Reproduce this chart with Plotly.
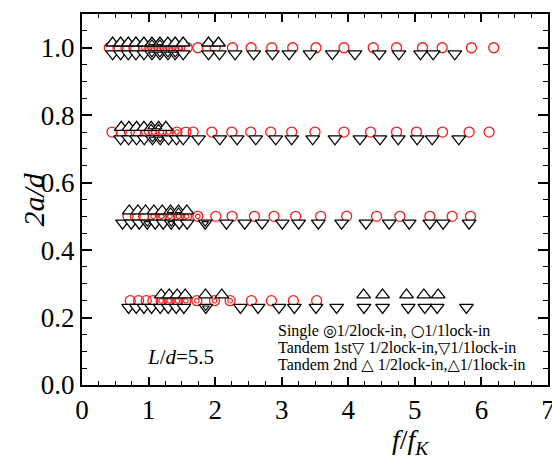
import plotly.graph_objects as go

# ---- data ----
# row levels of 2a/d (single cylinder circles), tandem markers drawn just above/below
row_levels = [1.0, 0.75, 0.5, 0.25]
tandem2_y = [1.014, 0.764, 0.516, 0.267]
tandem1_y = [0.982, 0.730, 0.480, 0.230]

# Single cylinder: 1/2 lock-in (double circle) and 1/1 lock-in (circle)
single_half_x = [
    [0.93, 1.02, 1.11, 1.2, 1.29, 1.38, 1.47],
    [0.97, 1.08, 1.19, 1.3, 1.425],
    [1.07, 1.195, 1.32, 1.45, 1.57, 1.74],
    [1.19, 1.31, 1.435, 1.56, 1.725, 1.99, 2.225],
]
single_full_x = [
    [0.41, 0.54, 0.66, 0.78, 1.58, 1.74, 2.0, 2.26, 2.54, 2.85, 3.165, 3.515,
     3.935, 4.375, 4.725, 5.115, 5.41, 5.85, 6.185],
    [0.45, 0.59, 0.71, 0.81, 1.56, 1.67, 1.95, 2.25, 2.535, 2.835, 3.15, 3.5,
     3.935, 4.335, 4.725, 5.025, 5.415, 5.815, 6.115],
    [0.69, 0.8, 0.925, 2.01, 2.255, 2.59, 2.885, 3.21, 3.585, 3.975, 4.425,
     4.775, 5.225, 5.56, 5.835],
    [0.725, 0.85, 0.965, 1.065, 2.545, 2.845, 3.175, 3.525],
]
# Tandem 1st cylinder (down triangles)
tandem1_half_x = [
    [1.05, 1.17, 1.29, 1.40],
    [1.06, 1.175],
    [0.98, 1.34, 1.85],
    [1.86],
]
tandem1_full_x = [
    [0.46, 0.58, 0.695, 0.81, 0.93, 1.52, 1.9, 2.065, 2.3, 2.58, 2.86, 3.11,
     3.425, 3.76, 4.1, 4.465, 4.76, 5.085, 5.275, 5.6],
    [0.58, 0.70, 0.82, 0.935, 1.3, 1.42, 1.52, 1.75, 2.07, 2.33, 2.61, 2.91,
     3.15, 3.465, 3.8, 4.175, 4.475, 4.75, 5.035, 5.26, 5.66],
    [0.61, 0.74, 0.86, 1.1, 1.22, 1.46, 1.58, 2.17, 2.445, 2.705, 3.01, 3.255,
     3.55, 3.9, 4.265, 4.615, 4.915, 5.225, 5.425, 5.815],
    [0.7, 0.815, 0.93, 1.045, 1.175, 1.295, 1.415, 1.53, 2.38, 2.645, 2.96,
     3.19, 3.515, 3.825, 4.235, 4.515, 4.9, 5.15, 5.335, 5.775],
]
# Tandem 2nd cylinder (up triangles)
tandem2_half_x = [
    [1.05, 1.17],
    [1.04, 1.15],
    [1.33, 1.45],
    [],
]
tandem2_full_x = [
    [0.46, 0.58, 0.695, 0.81, 0.93, 1.29, 1.40, 1.52, 1.9, 2.05],
    [0.59, 0.705, 0.82, 0.93, 1.26],
    [0.71, 0.84, 0.955, 1.08, 1.205, 1.575],
    [1.19, 1.31, 1.43, 1.55, 1.855, 2.1, 4.23, 4.515, 4.875, 5.135, 5.35],
]

x_ticks = [0, 1, 2, 3, 4, 5, 6, 7]
y_ticks = [0.0, 0.2, 0.4, 0.6, 0.8, 1.0]
y_tick_labels = ["0.0", "0.2", "0.4", "0.6", "0.8", "1.0"]

RED = "#ff1a1a"
FONT = "Liberation Serif"
TRI = 12
CIRC = 10

fig = go.Figure()

def sc(x, y, symbol, size, color, fill, lw=1.3):
    fig.add_trace(go.Scatter(
        x=x, y=y, mode="markers", showlegend=False, hoverinfo="skip", cliponaxis=False,
        marker=dict(symbol=symbol, size=size, color=fill,
                    line=dict(color=color, width=lw))))

# circles first (underneath)
for i, lvl in enumerate(row_levels):
    sc(single_full_x[i], [lvl] * len(single_full_x[i]), "circle", CIRC, RED, "rgba(0,0,0,0)")
    sc(single_half_x[i], [lvl] * len(single_half_x[i]), "circle", CIRC, RED, "rgba(0,0,0,0)")
    sc(single_half_x[i], [lvl] * len(single_half_x[i]), "circle", 4.5, RED, "rgba(0,0,0,0)", 1.1)

# triangles (white filled) drawn over, left to right
for i in range(len(row_levels)):
    xs1 = sorted(tandem1_full_x[i] + tandem1_half_x[i])
    sc(xs1, [tandem1_y[i]] * len(xs1), "triangle-down", TRI, "black", "white")
    sc(tandem1_half_x[i], [tandem1_y[i]] * len(tandem1_half_x[i]), "triangle-down", 6, "black", "white", 1.1)
    xs2 = sorted(tandem2_full_x[i] + tandem2_half_x[i])
    sc(xs2, [tandem2_y[i]] * len(xs2), "triangle-up", TRI, "black", "white")
    sc(tandem2_half_x[i], [tandem2_y[i]] * len(tandem2_half_x[i]), "triangle-up", 6, "black", "white", 1.1)

axis_common = dict(
    showline=True, linecolor="black", linewidth=2, mirror="ticks",
    ticks="inside", tickcolor="black", tickwidth=1.5,
    showgrid=False, zeroline=False, automargin=False,
    ticklabeloverflow="allow",
    tickfont=dict(family=FONT, size=27, color="black"),
)
fig.update_xaxes(range=[0, 7], tickvals=x_ticks, ticklen=8,
                 minor=dict(dtick=0.25, ticklen=4, ticks="inside", tickcolor="black", tickwidth=1.2),
                 **axis_common)
fig.update_yaxes(range=[0, 1.1], tickvals=y_ticks, ticktext=y_tick_labels, ticklen=10,
                 minor=dict(dtick=0.05, ticklen=5, ticks="inside", tickcolor="black", tickwidth=1.2),
                 **axis_common)

ann = []
ann.append(dict(xref="paper", yref="paper", x=-0.105, y=0.5, xanchor="center", yanchor="middle",
                text="<i>2a/d</i>", textangle=-90, showarrow=False,
                font=dict(family=FONT, size=30, color="black")))
ann.append(dict(xref="paper", yref="paper", x=0.705, y=-0.152, xanchor="center", yanchor="middle",
                text="<i>f</i>/<i>f</i><sub><i>K</i></sub>", showarrow=False,
                font=dict(family=FONT, size=28, color="black")))
ann.append(dict(xref="x", yref="y", x=1.48, y=0.084, xanchor="center", yanchor="middle",
                text="<i>L</i>/<i>d</i>=5.5", showarrow=False,
                font=dict(family=FONT, size=21, color="black")))
G = "<span style='font-family:DejaVu Sans'>%s</span>"
legend_lines = [
    "Single " + G % "\u25ce" + "1/2lock-in, " + G % "\u25cb" + "1/1lock-in",
    "Tandem 1st" + G % "<b>\u25bd</b>" + " 1/2lock-in," + G % "\u25bd" + "1/1lock-in",
    "Tandem 2nd " + G % "<b>\u25b3</b>" + " 1/2lock-in," + G % "\u25b3" + "1/1lock-in",
]
legend_y = [0.162, 0.112, 0.060]
for t, yy in zip(legend_lines, legend_y):
    ann.append(dict(xref="x", yref="y", x=2.91, y=yy, text=t, xanchor="left", yanchor="middle",
                    showarrow=False, font=dict(family=FONT, size=16, color="black")))

fig.update_layout(
    width=552, height=457,
    margin=dict(l=82, r=4, t=14, b=72),
    paper_bgcolor="white", plot_bgcolor="white",
    annotations=ann, showlegend=False,
)

fig.write_html(
    "out.html", config={"displayModeBar": False},
    post_script=("document.body.style.margin='0px';"
                 "document.body.style.overflow='hidden';"
                 "document.documentElement.style.overflow='hidden';"))
